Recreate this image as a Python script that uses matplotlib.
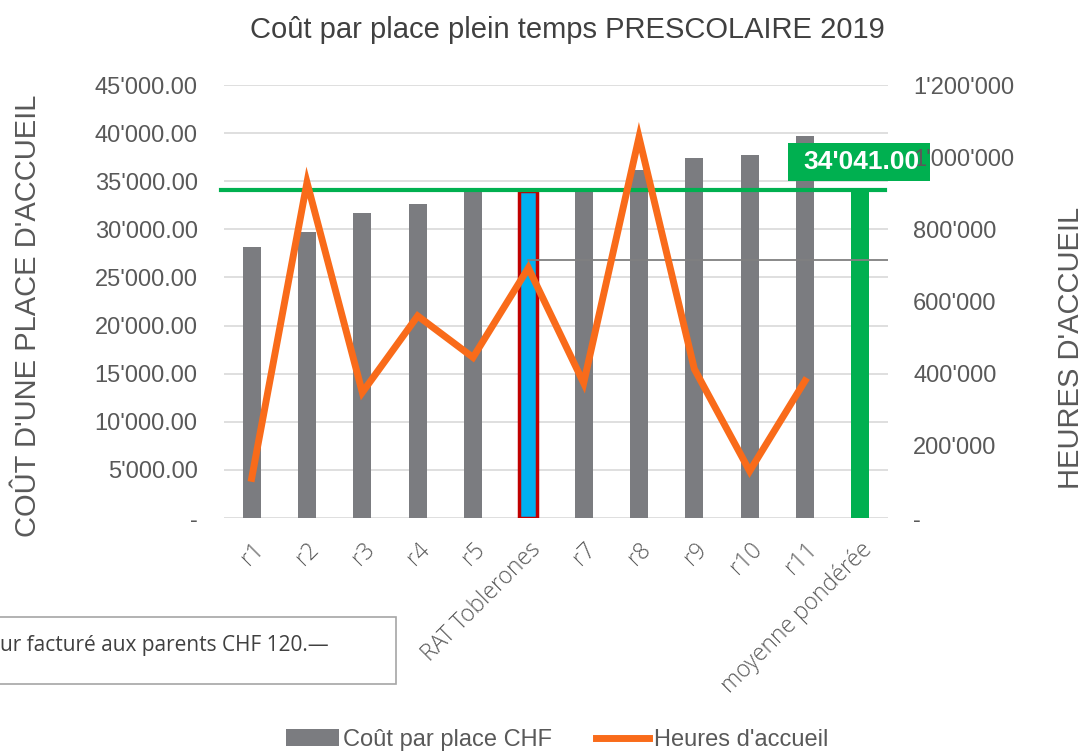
import matplotlib
matplotlib.use("Agg")
import matplotlib.pyplot as plt
from matplotlib.patches import Rectangle
from matplotlib.lines import Line2D
from matplotlib.ticker import FixedLocator, FuncFormatter

categories = ["r1", "r2", "r3", "r4", "r5", "RAT Toblerones", "r7", "r8", "r9", "r10", "r11", "moyenne pondérée"]
cout_place = [28150, 29700, 31700, 32650, 33900, 34000, 34200, 36150, 37400, 37700, 39700, 34041]
heures = [110000, 930000, 348000, 560000, 445000, 693000, 374000, 1055000, 413000, 130000, 380000]
moyenne = 34041
ref_line = 26800
left_ticks = [0, 5000, 10000, 15000, 20000, 25000, 30000, 35000, 40000, 45000]
right_ticks = [0, 200000, 400000, 600000, 800000, 1000000, 1200000]

GRAY = "#7B7C80"
ORANGE = "#F96B1A"
GREEN = "#00B050"
BLUE = "#00B0F0"
RED = "#C00000"
TXT = "#595959"
FONT = ["Liberation Sans", "DejaVu Sans"]

plt.rcParams["font.family"] = FONT

fig = plt.figure(figsize=(10.86, 7.52), dpi=100)
ax = fig.add_axes([224/1086, 1-518/752, (888-224)/1086, (518-85)/752])
ax2 = ax.twinx()

x = list(range(len(categories)))
colors = [GRAY]*len(categories)
colors[5] = BLUE
colors[-1] = GREEN
bars = ax.bar(x, cout_place, width=0.33, color=colors, zorder=2)
bars[5].set_edgecolor(RED)
bars[5].set_linewidth(2.5)

ax.set_xlim(-0.5, len(categories)-0.5)
ax.set_ylim(0, 45000)
ax2.set_ylim(0, 1200000)

ax.yaxis.set_major_locator(FixedLocator(left_ticks))
ax2.yaxis.set_major_locator(FixedLocator(right_ticks))

def fmt_left(v, p):
    if v == 0:
        return "-"
    return f"{v:,.2f}".replace(",", "'")

def fmt_right(v, p):
    if v == 0:
        return "-"
    return f"{v:,.0f}".replace(",", "'")

ax.yaxis.set_major_formatter(FuncFormatter(fmt_left))
ax2.yaxis.set_major_formatter(FuncFormatter(fmt_right))

ax.grid(axis="y", color="#D9D9D9", linewidth=1.2, zorder=0)
ax.set_axisbelow(True)
for a in (ax, ax2):
    for s in a.spines.values():
        s.set_visible(False)
    a.tick_params(length=0, labelsize=17, labelcolor=TXT)
ax.tick_params(axis="y", pad=19)
ax2.tick_params(axis="y", pad=18)

ax.set_xticks(x)
ax.set_xticklabels(categories, rotation=45, ha="right", rotation_mode="anchor",
                   fontsize=16.5, color=TXT, family=["Open Sans", "DejaVu Sans"], fontweight="light")
ax.tick_params(axis="x", pad=14)

# horizontal reference lines
ax.plot([-0.55, 11.45], [moyenne, moyenne], color=GREEN, linewidth=3, zorder=4, clip_on=False)
ax.plot([5, 11.5], [ref_line, ref_line], color="#808080", linewidth=1.3, zorder=3)

# orange line on secondary axis
ax2.plot(x[:len(heures)], heures, color=ORANGE, linewidth=5, solid_joinstyle="miter", zorder=5)

ax.set_ylabel("COÛT D'UNE PLACE D'ACCUEIL", fontsize=21, color=TXT)
ax2.set_ylabel("HEURES D'ACCUEIL", fontsize=21, color=TXT)
for lab in (ax.yaxis.label, ax2.yaxis.label):
    lab.set_va("center")
    lab.set_ha("center")
    lab.set_rotation_mode("default")
ax.yaxis.set_label_coords((28-224)/664, 1-(316-85)/433)
ax2.yaxis.set_label_coords((1071-224)/664, 1-(348-85)/433)

fig.text(567/1086, 1-30/752, "Coût par place plein temps PRESCOLAIRE 2019",
         ha="center", va="center", fontsize=21, color="#404040")

# green value label: box above plot content, below right tick labels
ax2.yaxis.set_zorder(10)
ax2.add_patch(Rectangle((788/1086, 1-181/752), 142/1086, 38/752, transform=fig.transFigure,
                        facecolor=GREEN, edgecolor="none", zorder=6, clip_on=False))
ax2.text(861/1086, 1-162/752, "34'041.00", ha="center", va="center", fontsize=19,
         fontweight="bold", color="white", zorder=11, transform=fig.transFigure, clip_on=False)

# note box, clipped at left edge
fig.patches.append(Rectangle((-5/1086, 1-684/752), 401/1086, 67/752, transform=fig.transFigure,
                             facecolor="white", edgecolor="#A6A6A6", linewidth=1.2, zorder=6))
fig.text(0/1086, 1-646/752, "ur facturé aux parents CHF 120.—", ha="left", va="center",
         fontsize=15, color="#404040", family=["Open Sans", "DejaVu Sans"], zorder=7)

handles = [Rectangle((0, 0), 1, 1, facecolor=GRAY), Line2D([0], [0], color=ORANGE, linewidth=5)]
fig.legend(handles, ["Coût par place CHF", "Heures d'accueil"], loc="center",
           bbox_to_anchor=(557/1086, 1-740/752), ncol=2, frameon=False, fontsize=17,
           handlelength=2.25, handletextpad=0.2, columnspacing=1.85, labelcolor=TXT)

fig.savefig("out.png", dpi=100)
